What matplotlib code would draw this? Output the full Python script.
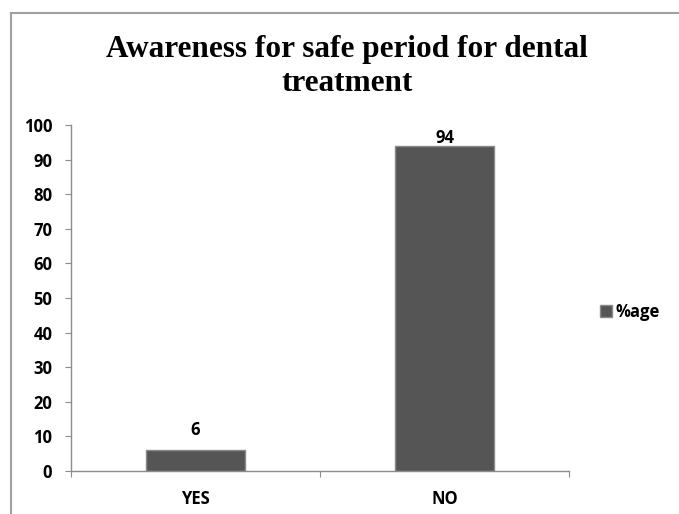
import matplotlib.pyplot as plt
from matplotlib.lines import Line2D

# data
categories = ["YES", "NO"]
percent = [6, 94]
series_name = "%age"
title_text = "Awareness for safe period for dental\ntreatment"

label_font = "Open Sans"
axis_col = "#8c8c8c"
bar_col = "#555555"

fig = plt.figure(figsize=(6.79, 5.14), dpi=100)
ax = fig.add_axes([0.1046, 0.0837, 0.7334, 0.6731])

x = list(range(len(categories)))
bars = ax.bar(x, percent, width=0.40, color=bar_col, edgecolor="#8a8a8a",
              linewidth=1.0, label=series_name)

# value labels, kept inside the plot area like the original
for xi, v in zip(x, percent):
    ax.text(xi, min(v + 5.9, 96.2), str(v), ha="center", va="center",
            fontsize=12, fontweight="bold", family=label_font)

ax.set_xlim(-0.5, 1.5)
ax.set_ylim(0, 100)
ax.set_yticks(range(0, 101, 10))
ax.set_xticks([-0.5, 0.5, 1.5])
ax.set_xticklabels(["", "", ""])
ax.set_xticks(x, minor=True)
ax.set_xticklabels(categories, minor=True)
ax.tick_params(axis="x", which="minor", length=0, pad=14)
ax.tick_params(axis="x", which="major", length=4.5, color=axis_col, direction="out")
ax.tick_params(axis="y", length=4.5, color=axis_col, direction="out", pad=9)

for lab in ax.get_yticklabels() + ax.get_xticklabels(minor=True):
    lab.set_fontweight("bold")
    lab.set_fontsize(12)
    lab.set_family(label_font)

for side in ["top", "right"]:
    ax.spines[side].set_visible(False)
for side in ["left", "bottom"]:
    ax.spines[side].set_color(axis_col)
    ax.spines[side].set_linewidth(1.0)

fig.text(0.511, 0.871, title_text, ha="center", va="center",
         fontsize=22.5, fontweight="bold", family="Liberation Serif",
         linespacing=1.2)

fig.legend(handles=[bars], labels=[series_name], loc="center left",
           bbox_to_anchor=(0.8837, 0.393), frameon=False,
           borderpad=0, borderaxespad=0,
           handlelength=0.7, handleheight=0.7, handletextpad=0.2,
           prop={"family": label_font, "weight": "bold", "size": 12})

# outer chart border (only left and top edges fall inside the picture)
bx, by = 11 / 679, 1 - 13 / 514
fig.add_artist(Line2D([bx, bx], [0, by], transform=fig.transFigure,
                      color="#a0a0a0", linewidth=1.5))
fig.add_artist(Line2D([bx, 1], [by, by], transform=fig.transFigure,
                      color="#a0a0a0", linewidth=1.5))

fig.savefig("out.png", dpi=100)
